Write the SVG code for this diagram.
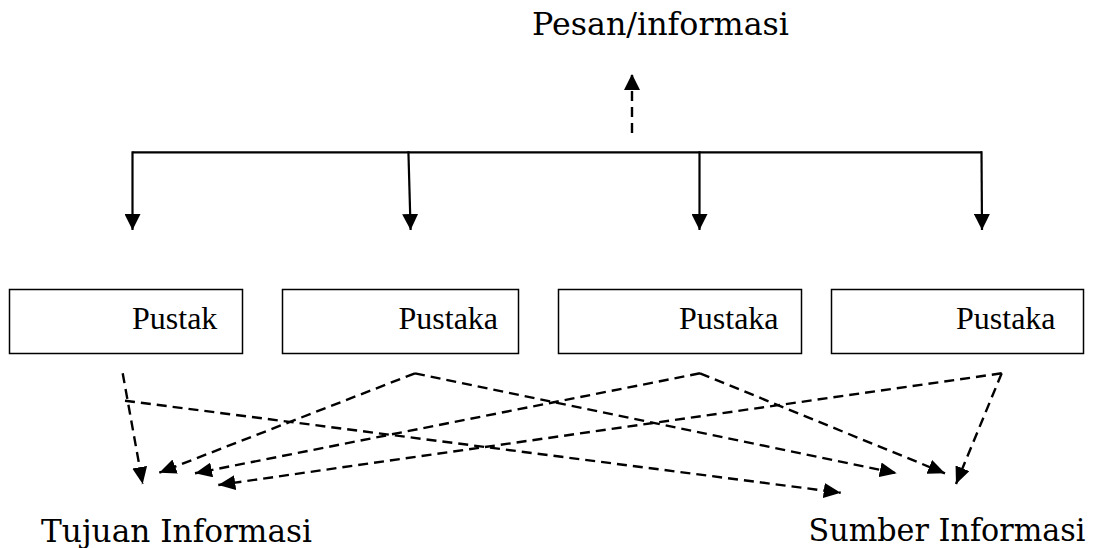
<svg xmlns="http://www.w3.org/2000/svg" width="1095" height="548" viewBox="0 0 1095 548">
  <style>
    .box { fill: #fff; stroke: #000; stroke-width: 1.5; }
    .btxt { font-family: "Liberation Serif", "Times New Roman", serif; font-size: 32px; fill: #000; }
    .ltxt { font-family: "DejaVu Serif", serif; font-size: 32px; fill: #000; }
    .solid { fill: none; stroke: #000; stroke-width: 2.2; }
    .dash { fill: none; stroke: #000; stroke-width: 2.4; stroke-dasharray: 10 6; }
  </style>
  <defs>
    <marker id="arrS" markerUnits="userSpaceOnUse" markerWidth="17" markerHeight="16" refX="16" refY="8" orient="auto">
      <path d="M0,0 L16,8 L0,16 z" fill="#000"/>
    </marker>
    <marker id="arrD" markerUnits="userSpaceOnUse" markerWidth="17" markerHeight="15" refX="17" refY="7.5" orient="auto">
      <path d="M0,0 L17,7.5 L0,15 z" fill="#000"/>
    </marker>
  </defs>
  <rect width="1095" height="548" fill="#fff"/>

  <g id="pesan">
    <text class="ltxt" x="532" y="35" textLength="257" lengthAdjust="spacingAndGlyphs">Pesan/informasi</text>
  </g>

  <g id="pustaka1">
    <rect class="box" x="9.5" y="289.5" width="233" height="64"/>
    <text class="btxt" x="132" y="329">Pustak</text>
  </g>
  <g id="pustaka2">
    <rect class="box" x="282.5" y="289.5" width="236" height="64"/>
    <text class="btxt" x="398.5" y="329">Pustaka</text>
  </g>
  <g id="pustaka3">
    <rect class="box" x="558.5" y="289.5" width="243" height="64"/>
    <text class="btxt" x="679" y="329">Pustaka</text>
  </g>
  <g id="pustaka4">
    <rect class="box" x="831.5" y="289.5" width="252" height="64"/>
    <text class="btxt" x="956" y="329">Pustaka</text>
  </g>

  <g id="tujuan">
    <text class="ltxt" x="41" y="541.5" textLength="271" lengthAdjust="spacingAndGlyphs">Tujuan Informasi</text>
  </g>
  <g id="sumber">
    <text class="ltxt" x="808.5" y="540.5" textLength="277" lengthAdjust="spacingAndGlyphs">Sumber Informasi</text>
  </g>

  <g id="connectors">
    <path class="dash" d="M632,133 L632,74" marker-end="url(#arrS)"/>
    <path class="solid" d="M132.5,152.3 L982,152.3"/>
    <path class="solid" d="M132.5,151.3 L132.5,230" marker-end="url(#arrS)"/>
    <path class="solid" d="M408.4,151.3 L410.6,230" marker-end="url(#arrS)"/>
    <path class="solid" d="M699.5,151.3 L699.5,230" marker-end="url(#arrS)"/>
    <path class="solid" d="M981.5,151.3 L982,230" marker-end="url(#arrS)"/>

    <path class="dash" d="M122.7,373.3 L142.7,484" marker-end="url(#arrD)"/>
    <path class="dash" d="M125,400.7 L840.7,492.7" marker-end="url(#arrD)"/>
    <path class="dash" d="M415,373.3 L159.3,472.7" marker-end="url(#arrD)"/>
    <path class="dash" d="M415,373.3 L896.7,473.3" marker-end="url(#arrD)"/>
    <path class="dash" d="M700,373.3 L195,473.3" marker-end="url(#arrD)"/>
    <path class="dash" d="M700,373.3 L945,473.3" marker-end="url(#arrD)"/>
    <path class="dash" d="M1001.7,373.3 L218.3,485" marker-end="url(#arrD)"/>
    <path class="dash" d="M1001.7,373.3 L956,484" marker-end="url(#arrD)"/>
  </g>
</svg>
